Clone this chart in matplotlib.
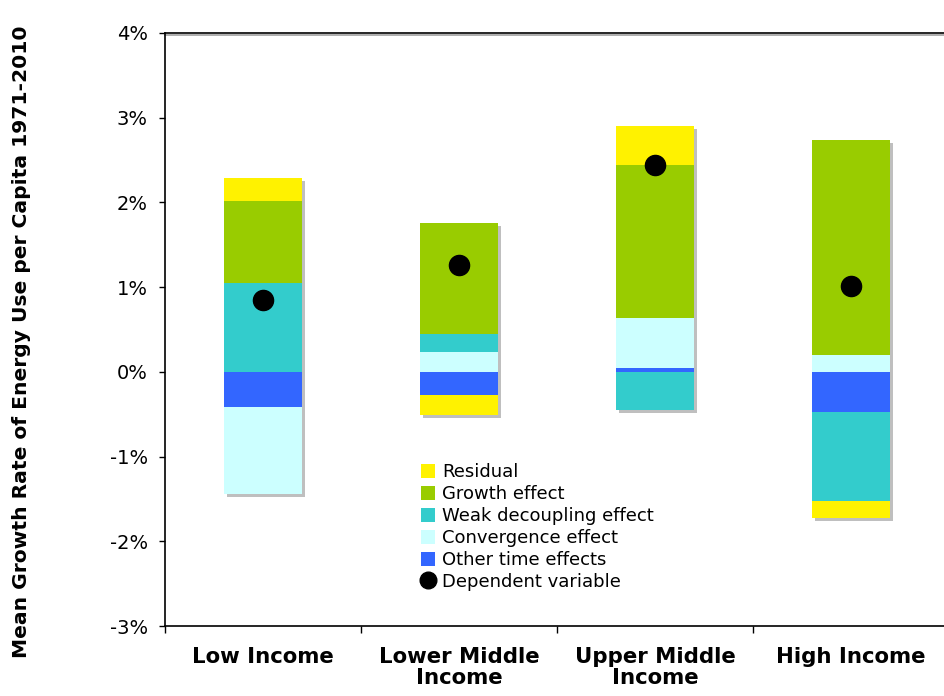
import numpy as np
import matplotlib
matplotlib.use("Agg")
import matplotlib.pyplot as plt
import matplotlib.transforms as mtransforms
from matplotlib.lines import Line2D
from matplotlib.patches import Patch
from matplotlib.ticker import FuncFormatter

categories = ["Low Income", "Lower Middle\nIncome", "Upper Middle\nIncome", "High Income"]

# values in percent, series order as stacked (bottom-up for each sign)
other_time = [-0.41, -0.27, 0.04, -0.47]
convergence = [-1.03, 0.24, 0.60, 0.20]
weak_decoupling = [1.05, 0.21, -0.45, -1.06]
growth = [0.97, 1.31, 1.80, 2.54]
residual = [0.27, -0.24, 0.46, -0.19]
dependent = [0.85, 1.26, 2.44, 1.015]

series_names = ["Other time effects", "Convergence effect", "Weak decoupling effect",
                "Growth effect", "Residual"]
series_vals = [other_time, convergence, weak_decoupling, growth, residual]
series_colors = ["#3366FF", "#CCFFFF", "#33CCCC", "#99CC00", "#FFF200"]

plt.rcParams['font.family'] = ['DejaVu Sans']

fig = plt.figure(figsize=(9.45, 6.96), dpi=100)
ax = fig.add_axes([165 / 945, 1 - 626 / 696, (949 - 165) / 945, (626 - 33) / 696])

x = np.arange(len(categories))
width = 0.40

vals = np.array(series_vals)
pos_bottom = np.zeros(len(categories))
neg_bottom = np.zeros(len(categories))
bottoms = []
for v in vals:
    b = np.where(v >= 0, pos_bottom, neg_bottom)
    bottoms.append(b)
    pos_bottom = pos_bottom + np.where(v >= 0, v, 0)
    neg_bottom = neg_bottom + np.where(v < 0, v, 0)

# shadow
shadow_tr = ax.transData + mtransforms.ScaledTranslation(3 / 100, -3 / 100, fig.dpi_scale_trans)
ax.bar(x, pos_bottom - neg_bottom, width, bottom=neg_bottom, color="#BFBFBF",
       transform=shadow_tr, zorder=1, linewidth=0)

for v, b, c in zip(vals, bottoms, series_colors):
    ax.bar(x, v, width, bottom=b, color=c, linewidth=0, zorder=2)

ax.plot(x, dependent, 'o', color='black', markersize=14.5, zorder=3)

ax.set_xlim(-0.5, 3.5)
ax.set_ylim(-3, 4)
ax.set_yticks(np.arange(-3, 5, 1))
ax.yaxis.set_major_formatter(FuncFormatter(lambda v, p: f"{int(round(v))}%"))
ax.tick_params(axis='y', direction='out', length=4.3, width=1, labelsize=14, pad=8)

ax.set_xticks(x)
ax.set_xticklabels(categories, fontweight='bold', fontsize=15.3, linespacing=1.05)
ax.tick_params(axis='x', which='major', length=0, pad=15)
ax.set_xticks(np.arange(-0.5, 3.6, 1), minor=True)
ax.tick_params(axis='x', which='minor', direction='out', length=5, width=1)

for s in ['right']:
    ax.spines[s].set_visible(False)
for s in ['left', 'bottom', 'top']:
    ax.spines[s].set_linewidth(1.2)
    ax.spines[s].set_color('black')

# top line shadow
ax.plot([0, 1], [1, 1], transform=ax.transAxes + mtransforms.ScaledTranslation(0, -2 / 100, fig.dpi_scale_trans),
        color='#A0A0A0', linewidth=1.2, clip_on=False, zorder=0)

fig.text(22 / 945, 1 - 342 / 696, "Mean Growth Rate of Energy Use per Capita 1971-2010",
         rotation=90, ha='center', va='center', fontweight='bold', fontsize=14.6)

handles = [Patch(facecolor=series_colors[4]), Patch(facecolor=series_colors[3]),
           Patch(facecolor=series_colors[2]), Patch(facecolor=series_colors[1]),
           Patch(facecolor=series_colors[0]),
           Line2D([], [], marker='o', color='black', linestyle='none', markersize=12)]
labels = ["Residual", "Growth effect", "Weak decoupling effect", "Convergence effect",
          "Other time effects", "Dependent variable"]
leg = fig.legend(handles, labels, loc='upper left', bbox_to_anchor=(421 / 945, 1 - 463 / 696),
                 frameon=False, fontsize=13, handlelength=0.8, handleheight=0.8,
                 handletextpad=0.35, labelspacing=0.22, borderaxespad=0, borderpad=0)

fig.savefig("out.png", dpi=100)
